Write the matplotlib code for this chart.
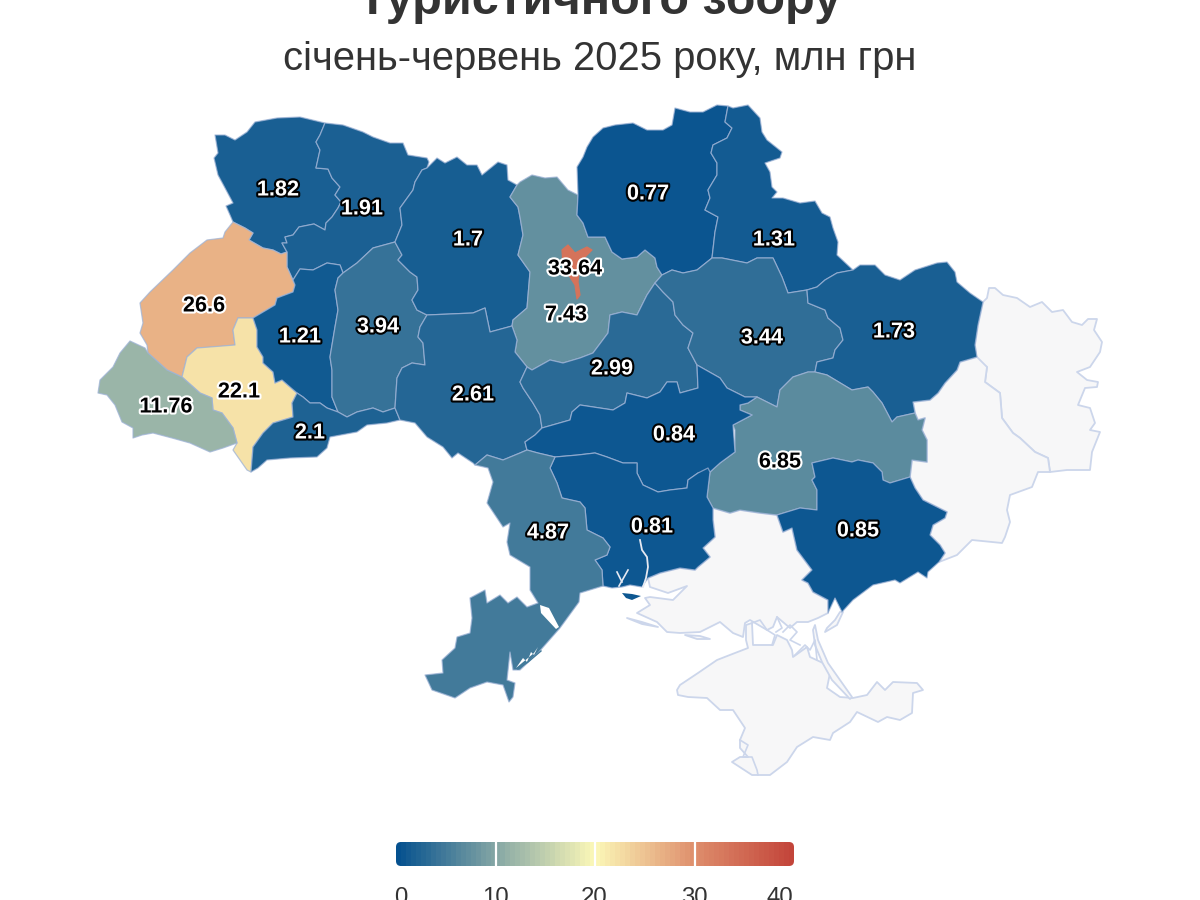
import matplotlib
matplotlib.use("Agg")
import matplotlib.pyplot as plt
import matplotlib.patheffects as pe
from matplotlib.colors import LinearSegmentedColormap, Normalize
from matplotlib.patches import FancyBboxPatch, Polygon
import numpy as np

plt.rcParams["font.family"] = ["Liberation Sans", "DejaVu Sans"]

TITLE = "Туристичного збору"
SUBTITLE = "січень-червень 2025 року, млн грн"

# values per oblast, same order as the outlines and label positions below
REGION_VALUES = [1.82, 1.91, 26.6, 22.1, 11.76, 1.21, 3.94, 2.1, 1.7, 7.43, 2.61, 2.99,
                 0.77, 1.31, 3.44, 1.73, 6.85, 0.85, 0.84, 0.81, 4.87, 33.64]
LABEL_XY = [(278, 190), (362, 209), (204, 306), (239, 392), (166, 407), (300, 337), (378, 327),
            (310, 433), (468, 240), (566, 315), (473, 395), (612, 369), (648, 194), (774, 240),
            (762, 338), (894, 332), (780, 462), (858, 531), (674, 435), (652, 527), (548, 533),
            (575, 269)]
DARK_TEXT = [7.43, 6.85, 11.76, 22.1, 26.6, 33.64]

# outlines, pixel coordinates
VOLYN = [(255,122),(277,118),(300,117),(325,123),(320,135),(316,142),(320,150),(316,168),(328,169),(332,178),(340,187),(335,195),(341,202),(338,208),(332,217),(326,223),(325,230),(314,224),(299,227),(293,235),(285,237),(287,243),(282,243),(287,252),(281,254),(273,250),(263,248),(249,240),(253,233),(245,228),(233,222),(230,215),(226,206),(233,203),(225,188),(218,175),(214,158),(218,153),(215,135),(225,135),(235,140),(247,132)]
RIVNE = [(325,123),(343,125),(363,132),(373,137),(390,143),(403,143),(408,155),(427,158),(429,162),(427,168),(422,170),(415,182),(413,190),(400,208),(402,225),(395,242),(373,248),(357,263),(343,273),(340,265),(327,263),(313,270),(300,269),(293,280),(287,267),(287,252),(282,243),(287,243),(285,237),(293,235),(299,227),(314,224),(325,230),(326,223),(332,217),(338,208),(341,202),(335,195),(340,187),(332,178),(328,169),(316,168),(320,150),(316,142),(320,135)]
LVIV = [(233,222),(245,228),(253,233),(249,240),(263,248),(273,250),(281,254),(287,252),(287,267),(295,285),(293,292),(277,298),(275,305),(253,318),(238,318),(233,330),(235,345),(217,347),(197,348),(187,357),(182,377),(167,370),(148,353),(147,345),(140,333),(143,323),(140,303),(150,292),(173,270),(190,253),(207,240),(223,238),(225,232)]
IVANO = [(253,318),(238,318),(233,330),(235,345),(197,348),(187,357),(182,377),(200,393),(212,398),(213,410),(222,413),(233,428),(237,443),(233,450),(247,470),(251,472),(253,447),(263,433),(273,423),(293,417),(292,403),(297,393),(290,387),(282,380),(275,383),(273,372),(263,363),(263,357),(257,347),(257,330)]
ZAKARPATTIA = [(130,341),(145,348),(148,353),(167,370),(182,377),(200,393),(212,398),(213,410),(222,413),(233,428),(237,443),(223,448),(210,452),(190,443),(172,438),(153,433),(142,435),(133,438),(133,428),(122,422),(115,405),(107,395),(98,393),(100,380),(113,367),(120,353)]
TERNOPIL = [(340,265),(327,263),(313,270),(300,269),(293,280),(295,285),(293,292),(277,298),(275,305),(253,318),(257,330),(257,347),(263,357),(263,363),(273,372),(275,383),(282,380),(290,387),(297,393),(303,397),(310,403),(320,403),(327,408),(338,412),(332,397),(332,370),(330,357),(335,327),(338,310),(335,290),(338,278),(343,273)]
KHMELNYTSKYI = [(343,273),(357,263),(373,248),(395,242),(402,255),(398,260),(410,272),(417,277),(418,290),(412,300),(417,310),(427,315),(420,327),(418,337),(423,343),(425,365),(412,363),(402,368),(397,378),(395,408),(383,412),(373,408),(357,412),(347,417),(338,412),(332,397),(332,370),(330,357),(335,327),(338,310),(335,290),(338,278)]
CHERNIVTSI = [(297,393),(303,397),(310,403),(320,403),(327,408),(338,412),(347,417),(357,412),(373,408),(383,412),(395,408),(400,420),(387,423),(367,425),(357,432),(330,437),(327,448),(317,457),(290,458),(267,460),(258,468),(251,472),(253,447),(263,433),(273,423),(293,417),(292,403)]
ZHYTOMYR = [(427,168),(437,158),(445,163),(457,157),(467,165),(477,165),(482,175),(498,162),(507,165),(508,180),(517,185),(510,197),(518,207),(520,217),(523,235),(518,255),(530,272),(527,308),(513,320),(512,326),(490,332),(485,308),(473,313),(427,315),(417,310),(412,300),(418,290),(417,277),(410,272),(398,260),(402,255),(395,242),(402,225),(400,208),(413,190),(415,182),(422,170)]
KYIV_OBL = [(510,197),(517,185),(520,182),(532,175),(545,178),(557,177),(568,190),(578,195),(577,215),(583,223),(588,237),(605,237),(612,252),(622,259),(637,257),(645,250),(655,258),(657,267),(662,275),(655,283),(647,295),(637,315),(622,312),(610,315),(608,333),(593,353),(580,358),(563,363),(550,360),(532,370),(527,367),(515,352),(517,340),(512,326),(513,320),(527,308),(530,272),(518,255),(523,235),(520,217),(518,207)]
VINNYTSIA = [(427,315),(473,313),(485,308),(490,332),(512,326),(517,340),(515,352),(527,367),(520,382),(523,388),(533,403),(540,415),(542,428),(535,435),(525,442),(527,450),(520,453),(503,460),(487,455),(475,465),(473,463),(458,453),(452,458),(443,447),(427,437),(415,423),(400,420),(395,408),(397,378),(402,368),(412,363),(425,365),(423,343),(418,337),(420,327)]
CHERKASY = [(655,283),(663,292),(673,302),(675,315),(683,325),(693,333),(688,348),(697,365),(698,388),(680,393),(677,382),(667,382),(660,392),(647,398),(627,393),(625,403),(613,410),(580,405),(572,412),(570,420),(542,428),(540,415),(533,403),(523,388),(520,382),(527,367),(532,370),(550,360),(563,363),(580,358),(593,353),(608,333),(610,315),(622,312),(637,315),(647,295)]
CHERNIHIV = [(578,195),(577,167),(583,157),(587,147),(593,137),(603,128),(615,125),(633,123),(647,130),(663,130),(672,125),(675,108),(690,112),(703,112),(717,105),(728,106),(725,122),(732,128),(727,138),(713,145),(711,153),(717,163),(717,175),(708,190),(710,198),(705,210),(718,217),(715,232),(712,258),(697,270),(683,273),(672,270),(662,275),(657,267),(655,258),(645,250),(637,257),(622,259),(612,252),(605,237),(588,237),(583,223),(577,215)]
SUMY = [(728,106),(733,108),(748,105),(760,118),(762,132),(767,140),(782,152),(780,158),(765,163),(770,172),(772,187),(777,192),(772,198),(783,198),(800,203),(815,201),(822,213),(830,217),(833,228),(838,242),(837,255),(853,270),(837,273),(825,280),(817,287),(807,290),(788,293),(782,277),(773,258),(757,258),(747,263),(722,258),(712,258),(715,232),(718,217),(705,210),(710,198),(708,190),(717,175),(717,163),(711,153),(713,145),(727,138),(732,128),(725,122)]
POLTAVA = [(662,275),(672,270),(683,273),(697,270),(712,258),(722,258),(747,263),(757,258),(773,258),(782,277),(788,293),(807,290),(808,303),(825,310),(828,318),(840,328),(843,340),(835,350),(833,358),(817,362),(815,372),(808,372),(793,377),(780,390),(777,407),(757,397),(745,397),(727,388),(720,378),(697,365),(688,348),(693,333),(683,325),(675,315),(673,302),(663,292),(655,283)]
KHARKIV = [(853,270),(860,265),(875,265),(885,275),(900,280),(915,270),(937,263),(947,262),(955,272),(957,282),(970,293),(983,302),(978,325),(975,345),(977,357),(960,362),(957,370),(945,383),(938,393),(930,400),(913,402),(915,413),(897,417),(892,422),(882,403),(873,392),(868,387),(852,390),(827,375),(815,372),(817,362),(833,358),(835,350),(843,340),(840,328),(828,318),(825,310),(808,303),(807,290),(817,287),(825,280),(837,273)]
DNIPRO = [(740,405),(748,403),(757,397),(777,407),(780,390),(793,377),(808,372),(815,372),(827,375),(852,390),(868,387),(873,392),(882,403),(892,422),(897,417),(915,413),(918,420),(925,418),(922,430),(927,440),(927,462),(912,460),(910,477),(890,483),(883,480),(882,472),(873,463),(858,460),(852,462),(833,458),(812,463),(815,477),(812,480),(817,490),(817,510),(800,508),(777,515),(760,513),(740,510),(730,513),(713,508),(707,497),(710,472),(720,463),(735,452),(735,430),(733,425),(752,415),(740,410)]
ZAPORIZHZHIA = [(812,463),(833,458),(852,462),(858,460),(873,463),(882,472),(883,480),(890,483),(910,477),(915,488),(923,500),(947,512),(945,518),(933,525),(930,535),(940,545),(945,553),(939,562),(928,572),(927,578),(918,572),(900,583),(895,580),(873,585),(853,600),(842,612),(835,598),(828,613),(828,600),(813,592),(808,583),(802,580),(812,570),(797,550),(792,528),(783,532),(777,515),(800,508),(817,510),(817,490),(812,480),(815,477)]
KIROVOHRAD = [(542,428),(570,420),(572,412),(580,405),(613,410),(625,403),(627,393),(647,398),(660,392),(667,382),(677,382),(680,393),(698,388),(697,365),(720,378),(727,388),(745,397),(757,397),(748,403),(740,405),(740,410),(752,415),(733,425),(735,452),(720,463),(710,472),(698,473),(688,480),(687,488),(670,490),(658,492),(643,485),(637,473),(637,463),(623,463),(607,457),(595,453),(578,455),(555,457),(538,453),(527,450),(525,442),(535,435)]
MYKOLAIV = [(555,457),(578,455),(595,453),(607,457),(623,463),(637,463),(637,473),(643,485),(658,492),(670,490),(687,488),(688,480),(698,473),(708,468),(710,472),(707,497),(713,508),(713,520),(715,537),(703,548),(710,557),(698,567),(695,570),(680,568),(660,573),(648,578),(642,587),(630,585),(622,587),(612,588),(603,586),(602,570),(595,560),(607,555),(610,547),(603,538),(587,530),(585,508),(580,502),(562,498),(557,483),(550,468)]
KINBURN = [(622,593),(632,594),(641,596),(632,600),(626,598)]
ODESA = [(475,465),(487,455),(503,460),(520,453),(527,450),(538,453),(555,457),(550,468),(557,483),(562,498),(580,502),(585,508),(587,530),(603,538),(610,547),(607,555),(595,560),(602,570),(603,586),(580,593),(579,602),(560,628),(538,653),(520,670),(513,670),(510,652),(507,680),(515,683),(513,697),(509,702),(503,685),(487,682),(470,688),(455,698),(432,690),(425,675),(443,673),(442,660),(455,648),(457,637),(470,633),(472,618),(470,598),(485,590),(487,603),(500,595),(508,603),(517,597),(527,607),(538,603),(530,590),(530,567),(510,555),(507,542),(510,523),(503,527),(487,503),(493,482),(488,468)]
KYIV_CITY = [(562,250),(568,245),(575,253),(587,247),(592,250),(580,262),(578,282),(580,295),(577,299),(575,285),(570,277),(563,265)]
REGION_OUTLINES = [VOLYN, RIVNE, LVIV, IVANO, ZAKARPATTIA, TERNOPIL, KHMELNYTSKYI, CHERNIVTSI, ZHYTOMYR,
                   KYIV_OBL, VINNYTSIA, CHERKASY, CHERNIHIV, SUMY, POLTAVA, KHARKIV, DNIPRO, ZAPORIZHZHIA,
                   KIROVOHRAD, MYKOLAIV, ODESA, KYIV_CITY]

# regions without data
LUHANSK = [(983,302),(987,298),(989,288),(995,288),(1003,295),(1017,298),(1030,307),(1042,302),(1052,312),(1063,310),(1072,322),(1082,325),(1088,319),(1097,319),(1094,330),(1102,342),(1100,352),(1090,367),(1077,372),(1087,380),(1098,382),(1097,387),(1085,388),(1078,405),(1090,408),(1095,423),(1090,430),(1100,432),(1092,452),(1090,470),(1067,470),(1050,472),(1048,458),(1035,452),(1020,438),(1013,433),(1002,418),(1000,393),(985,382),(987,367),(977,362),(975,345),(978,325)]
DONETSK = [(977,357),(960,362),(957,370),(945,383),(938,393),(930,400),(913,402),(915,413),(918,420),(925,418),(922,430),(927,440),(927,462),(912,460),(910,477),(915,488),(923,500),(947,512),(945,518),(933,525),(930,535),(940,545),(945,553),(939,562),(957,555),(972,540),(1002,543),(1005,537),(1010,522),(1007,510),(1010,495),(1032,487),(1038,472),(1050,472),(1048,458),(1035,452),(1020,438),(1013,433),(1002,418),(1000,393),(985,382),(987,367)]
KHERSON = [(713,508),(730,513),(740,510),(760,513),(777,515),(783,532),(792,528),(797,550),(812,570),(802,580),(808,583),(813,592),(828,600),(828,613),(818,618),(808,622),(797,622),(790,628),(777,617),(773,627),(767,630),(750,620),(745,623),(743,637),(733,633),(720,622),(710,627),(700,632),(680,633),(667,632),(657,622),(637,613),(650,605),(645,598),(650,597),(673,600),(687,586),(668,593),(650,587),(648,578),(660,573),(680,568),(695,570),(698,567),(710,557),(703,548),(715,537),(713,520)]
CRIMEA = [(753,645),(773,645),(777,635),(787,640),(792,650),(793,657),(807,647),(810,657),(823,663),(830,673),(827,688),(840,697),(853,698),(867,695),(877,682),(885,690),(893,682),(917,683),(923,690),(913,693),(912,713),(900,720),(887,717),(878,722),(857,712),(850,722),(833,733),(830,740),(813,737),(797,747),(787,762),(770,775),(752,775),(732,762),(740,757),(748,757),(740,748),(740,740),(745,728),(733,710),(720,710),(707,698),(688,697),(678,695),(677,690),(680,685),(698,673),(717,660),(735,653),(748,648),(746,640),(746,625),(752,623)]
ARABAT = [(815,625),(818,640),(828,663),(852,697),(850,699),(832,680),(822,662),(815,645),(813,630)]
HENICHESK = [(843,612),(837,625),(825,632),(827,628),(835,620),(840,612)]
TENDRA = [(627,618),(642,622),(658,627),(642,624)]
DZHARYLHACH = [(685,635),(700,636),(710,639),(697,639)]
NO_DATA_OUTLINES = [LUHANSK, DONETSK, KHERSON, CRIMEA, ARABAT, HENICHESK, TENDRA, DZHARYLHACH]
SYVASH_LINES = [[(752,623),(760,620),(767,630),(775,635),(772,645)],
                [(783,632),(790,625),(797,632),(790,640),(800,645)],
                [(795,655),(805,645),(810,650),(815,640),(817,660)],
                [(777,617),(782,628),(776,632)]]
SEVASTOPOL = [(740,740),(748,745),(743,757),(752,757),(757,770),(758,775)]

# white cuts in the southwest
DNISTER_ESTUARY = [(540,605),(549,608),(559,627),(556,629),(541,613)]
COAST_LAGOON = [(516,668),(523,658),(527,662),(531,652),(534,655),(538,647),(534,653)]
ODESA_SPIT = [(541,651),(528,662),(518,669)]
RIVER_LINE = [(640,540),(642,550),(647,557),(648,567),(646,578),(643,587)]
LIMAN_CUT = [[(617,572),(622,582)], [(628,570),(619,586)]]

COLORBAR_TICKS = [0, 10, 20, 30, 40]
COLORBAR_TICK_X = [401, 495, 594, 694, 780]
COLORBAR_STEPS = np.arange(0.25, 40, 0.5)

COLORS = ["#03508f", "#85a7a5", "#fcf8b8", "#df8f6d", "#c3443a"]
cmap = LinearSegmentedColormap.from_list("tourism", COLORS)
norm = Normalize(0, 40)

fig = plt.figure(figsize=(12, 9), dpi=100)
ax = fig.add_axes([0, 0, 1, 1])
ax.set_xlim(0, 1200)
ax.set_ylim(900, 0)
ax.axis("off")

for outline in NO_DATA_OUTLINES:
    ax.add_patch(Polygon(outline, facecolor="#f7f7f8", edgecolor="#ccd6eb", linewidth=1.3, joinstyle="round"))
for line in SYVASH_LINES + [SEVASTOPOL]:
    ax.plot(*zip(*line), color="#ccd6eb", linewidth=1.2)

for outline, value in zip(REGION_OUTLINES, REGION_VALUES):
    edge = (0.62, 0.70, 0.84, 0.75) if value < 33 else cmap(norm(value))
    ax.add_patch(Polygon(outline, facecolor=cmap(norm(value)), edgecolor=edge, linewidth=0.9, joinstyle="round"))
ax.add_patch(Polygon(KINBURN, facecolor=cmap(norm(0.81)), edgecolor="none"))

for cut in [DNISTER_ESTUARY, COAST_LAGOON]:
    ax.add_patch(Polygon(cut, facecolor="white", edgecolor="none"))
ax.plot(*zip(*ODESA_SPIT), color=cmap(norm(4.87)), linewidth=1)
ax.plot(*zip(*RIVER_LINE), color="#e6e9f2", linewidth=1.3)
for line in LIMAN_CUT:
    ax.plot(*zip(*line), color="#e6e9f2", linewidth=1.2)

for (x, y), value in zip(LABEL_XY, REGION_VALUES):
    dark = value in DARK_TEXT
    ax.text(x, y, str(value), ha="center", va="center", fontsize=15.6, fontweight="bold",
            color="black" if dark else "white",
            path_effects=[pe.withStroke(linewidth=3, foreground="white" if dark else "black")])

ax.text(600, 14, TITLE, ha="center", va="baseline", fontsize=35, fontweight="bold", color="#333333")
ax.text(600, 70, SUBTITLE, ha="center", va="baseline", fontsize=28.8, color="#333333")

# colour bar
cax = fig.add_axes([396 / 1200, 1 - 866 / 900, 398 / 1200, 24 / 900])
image = cax.imshow(COLORBAR_STEPS[None, :], cmap=cmap, norm=norm, aspect="auto", extent=(0, 40, 0, 1))
cax.axis("off")
clip = FancyBboxPatch((396, 842), 398, 24, boxstyle="round,pad=0,rounding_size=5",
                      facecolor="none", edgecolor="none")
ax.add_patch(clip)
image.set_clip_path(clip)
for tick in COLORBAR_TICKS[1:-1]:
    cax.axvline(tick, color="white", linewidth=1.6)

for tick, x in zip(COLORBAR_TICKS, COLORBAR_TICK_X):
    ax.text(x, 904, str(tick), ha="center", va="baseline", fontsize=17.3, color="#333333")

fig.savefig("out.png", dpi=100)
